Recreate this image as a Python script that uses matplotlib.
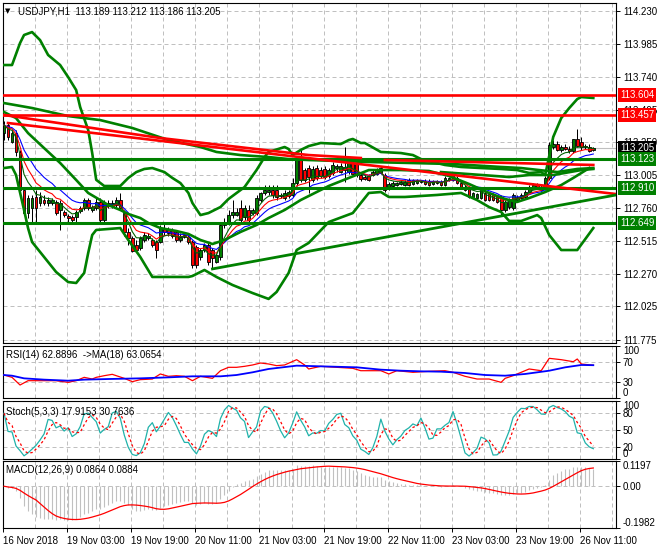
import numpy as np
import pandas as pd
import matplotlib
matplotlib.use("Agg")
import matplotlib.pyplot as plt
import matplotlib.transforms as mtransforms

plt.rcParams["font.family"] = ["Liberation Sans", "DejaVu Sans"]
plt.rcParams["font.size"] = 7

# USDJPY H1 candles
opens = [113.319, 113.379, 113.252, 113.319, 113.178, 112.894, 112.722, 112.760, 112.842, 112.797,
         112.819, 112.797, 112.797, 112.805, 112.745, 112.730, 112.700, 112.693, 112.693, 112.737,
         112.760, 112.819, 112.745, 112.760, 112.805, 112.670, 112.775, 112.775, 112.782, 112.819,
         112.722, 112.581, 112.536, 112.484, 112.461, 112.521, 112.536, 112.521, 112.506, 112.506,
         112.610, 112.603, 112.596, 112.581, 112.521, 112.543, 112.543, 112.506, 112.469, 112.394,
         112.446, 112.484, 112.446, 112.357, 112.394, 112.633, 112.648, 112.707, 112.707, 112.760,
         112.693, 112.745, 112.722, 112.722, 112.819, 112.872, 112.879, 112.894, 112.894, 112.849,
         112.834, 112.849, 112.857, 112.946, 113.133, 113.043, 113.058, 112.969, 113.058, 113.043,
         113.051, 112.999, 113.021, 113.058, 113.028, 113.043, 113.028, 113.096, 113.088, 113.006,
         112.991, 112.999, 113.006, 113.013, 113.021, 113.006, 112.909, 112.924, 112.931, 112.939,
         112.931, 112.969, 112.939, 112.946, 112.954, 112.961, 112.961, 112.939, 112.946, 112.954,
         112.931, 112.969, 112.969, 112.984, 112.946, 112.916, 112.909, 112.842, 112.834, 112.834,
         112.872, 112.864, 112.857, 112.842, 112.842, 112.745, 112.767, 112.760, 112.819, 112.834,
         112.842, 112.879, 112.909, 112.931, 112.894, 112.909, 112.984, 113.215, 113.237, 113.193,
         113.215, 113.200, 113.185, 113.275, 113.252, 113.215, 113.215, 113.189]
highs = [113.409, 113.394, 113.342, 113.342, 113.193, 112.909, 112.857, 112.857, 112.894, 112.879,
         112.857, 112.842, 112.834, 112.819, 112.819, 112.745, 112.715, 112.707, 112.745, 112.775,
         112.834, 112.834, 112.782, 112.834, 112.834, 112.819, 112.819, 112.819, 112.842, 112.872,
         112.745, 112.610, 112.551, 112.521, 112.551, 112.581, 112.573, 112.536, 112.521, 112.633,
         112.640, 112.618, 112.610, 112.596, 112.573, 112.573, 112.558, 112.521, 112.484, 112.461,
         112.499, 112.499, 112.461, 112.424, 112.655, 112.685, 112.745, 112.819, 112.760, 112.819,
         112.782, 112.782, 112.760, 112.857, 112.879, 112.931, 112.931, 112.931, 112.931, 112.872,
         112.894, 112.894, 112.984, 113.140, 113.193, 113.058, 113.081, 113.073, 113.081, 113.066,
         113.073, 113.058, 113.103, 113.088, 113.096, 113.215, 113.118, 113.118, 113.110, 113.028,
         113.006, 113.013, 113.043, 113.058, 113.073, 113.021, 112.954, 112.961, 112.954, 112.969,
         112.969, 112.984, 112.976, 112.976, 112.969, 112.976, 112.976, 112.969, 112.969, 112.969,
         112.999, 112.991, 113.021, 112.999, 112.961, 112.931, 112.924, 112.879, 112.872, 112.909,
         112.887, 112.879, 112.872, 112.857, 112.857, 112.819, 112.834, 112.872, 112.857, 112.872,
         112.894, 112.931, 112.946, 112.946, 112.931, 112.999, 113.252, 113.267, 113.260, 113.230,
         113.237, 113.222, 113.275, 113.349, 113.290, 113.237, 113.237, 113.212]
lows = [113.267, 113.267, 113.245, 113.148, 112.857, 112.707, 112.685, 112.648, 112.648, 112.775,
        112.782, 112.775, 112.782, 112.707, 112.596, 112.693, 112.655, 112.648, 112.655, 112.722,
        112.745, 112.745, 112.730, 112.745, 112.655, 112.655, 112.760, 112.760, 112.767, 112.745,
        112.551, 112.484, 112.431, 112.431, 112.446, 112.506, 112.521, 112.469, 112.387, 112.499,
        112.558, 112.551, 112.536, 112.506, 112.506, 112.536, 112.491, 112.312, 112.312, 112.372,
        112.431, 112.334, 112.305, 112.349, 112.372, 112.610, 112.633, 112.685, 112.700, 112.648,
        112.670, 112.655, 112.707, 112.707, 112.805, 112.857, 112.857, 112.834, 112.819, 112.834,
        112.819, 112.834, 112.842, 112.924, 112.954, 112.954, 112.872, 112.954, 112.969, 112.984,
        112.976, 112.984, 113.006, 113.028, 113.021, 112.954, 113.013, 112.999, 112.991, 112.961,
        112.969, 112.961, 112.999, 113.006, 113.013, 112.879, 112.894, 112.909, 112.924, 112.931,
        112.924, 112.924, 112.931, 112.939, 112.946, 112.931, 112.924, 112.931, 112.939, 112.924,
        112.924, 112.961, 112.961, 112.939, 112.909, 112.887, 112.834, 112.834, 112.819, 112.827,
        112.812, 112.812, 112.812, 112.797, 112.707, 112.730, 112.752, 112.745, 112.812, 112.827,
        112.834, 112.872, 112.902, 112.902, 112.887, 112.894, 112.969, 113.200, 113.185, 113.178,
        113.193, 113.170, 113.170, 113.215, 113.193, 113.200, 113.178, 113.186]
closes = [113.379, 113.290, 113.319, 113.178, 112.894, 112.722, 112.834, 112.834, 112.760, 112.842,
          112.797, 112.819, 112.819, 112.722, 112.797, 112.707, 112.685, 112.670, 112.730, 112.760,
          112.819, 112.760, 112.767, 112.805, 112.670, 112.797, 112.797, 112.797, 112.819, 112.760,
          112.581, 112.536, 112.439, 112.446, 112.536, 112.558, 112.551, 112.484, 112.446, 112.610,
          112.581, 112.573, 112.551, 112.521, 112.543, 112.558, 112.506, 112.334, 112.334, 112.446,
          112.484, 112.357, 112.387, 112.409, 112.633, 112.655, 112.707, 112.730, 112.730, 112.670,
          112.760, 112.670, 112.745, 112.834, 112.872, 112.894, 112.894, 112.857, 112.842, 112.857,
          112.872, 112.879, 112.946, 113.118, 112.969, 112.969, 112.991, 113.051, 112.984, 112.999,
          112.991, 113.043, 113.081, 113.073, 113.073, 113.066, 113.096, 113.013, 113.006, 112.976,
          112.976, 112.969, 113.028, 113.043, 113.058, 112.894, 112.939, 112.946, 112.946, 112.954,
          112.954, 112.931, 112.969, 112.969, 112.961, 112.939, 112.931, 112.961, 112.961, 112.931,
          112.984, 112.984, 113.006, 112.946, 112.916, 112.894, 112.842, 112.872, 112.864, 112.894,
          112.819, 112.819, 112.819, 112.805, 112.745, 112.805, 112.819, 112.857, 112.842, 112.857,
          112.879, 112.916, 112.931, 112.909, 112.916, 112.984, 113.230, 113.237, 113.193, 113.215,
          113.200, 113.185, 113.275, 113.222, 113.215, 113.222, 113.185, 113.205]

# Bollinger bands (upper / middle / lower)
bb_up_idx = [0, 2, 4, 5, 7, 9, 11, 14, 16, 18, 19, 21, 22, 23, 25, 29, 31, 33, 35, 37,
             40, 42, 44, 46, 47, 49, 51, 54, 56, 60, 63, 65, 66, 70, 71, 72, 74, 76, 79, 84,
             86, 87, 89, 90, 94, 99, 102, 104, 110, 114, 119, 124, 128, 131, 134, 135, 137, 139, 141, 143,
             144, 147]
bb_up = [113.827, 113.827, 113.991, 114.051, 114.073, 114.013, 113.902, 113.827, 113.737, 113.640,
         113.513, 113.342, 113.170, 112.970, 112.924, 112.924, 112.984, 113.028, 113.051, 113.058,
         113.028, 112.984, 112.946, 112.872, 112.797, 112.707, 112.722, 112.767, 112.827, 112.916,
         113.043, 113.140, 113.178, 113.215, 113.200, 113.155, 113.193, 113.222, 113.245, 113.237,
         113.267, 113.275, 113.245, 113.245, 113.178, 113.170, 113.155, 113.125, 113.081, 113.066,
         113.058, 113.051, 113.043, 113.021, 113.028, 113.006, 113.290, 113.431, 113.506, 113.573,
         113.588, 113.581]
bb_mid_idx = [0, 3, 6, 10, 14, 18, 21, 24, 26, 29, 31, 34, 36, 39, 43, 46, 49, 52, 55, 59,
              63, 66, 70, 74, 78, 81, 86, 91, 99, 106, 111, 116, 121, 125, 128, 131, 135, 139, 142, 146]
bb_mid = [113.476, 113.431, 113.319, 113.207, 113.096, 112.969, 112.872, 112.819, 112.782, 112.745,
          112.715, 112.685, 112.648, 112.610, 112.588, 112.566, 112.521, 112.491, 112.521, 112.581,
          112.633, 112.685, 112.745, 112.819, 112.879, 112.924, 112.984, 113.043, 113.043, 113.036,
          112.999, 112.939, 112.872, 112.827, 112.805, 112.834, 112.879, 112.931, 112.984, 113.058]
bb_lo_idx = [0, 2, 3, 5, 6, 7, 10, 13, 16, 18, 20, 21, 22, 23, 29, 31, 34, 37, 39, 46,
             47, 50, 53, 57, 62, 66, 68, 71, 73, 76, 81, 87, 91, 94, 96, 100, 108, 114, 118, 121,
             124, 126, 129, 133, 134, 136, 139, 143, 147]
bb_lo = [113.058, 113.066, 113.006, 112.745, 112.610, 112.506, 112.394, 112.282, 112.207, 112.200,
         112.275, 112.424, 112.558, 112.596, 112.610, 112.521, 112.394, 112.245, 112.245, 112.245,
         112.252, 112.297, 112.245, 112.185, 112.125, 112.081, 112.133, 112.275, 112.446, 112.499,
         112.655, 112.722, 112.872, 112.879, 112.842, 112.842, 112.857, 112.872, 112.819, 112.767,
         112.730, 112.663, 112.663, 112.707, 112.685, 112.558, 112.446, 112.446, 112.610]

# slow envelope lines
slow_idx = [0, 7, 16, 24, 32, 41, 49, 53, 59, 66, 71, 76, 84, 91, 101, 112, 124, 129, 138, 143, 147]
slow_line = [113.543, 113.506, 113.446, 113.416, 113.357, 113.267, 113.215, 113.178, 113.155, 113.140,
             113.125, 113.118, 113.110, 113.103, 113.096, 113.088, 113.066, 113.058, 113.028, 113.051, 113.058]
env_idx = [109, 116, 126, 131, 137, 144, 147]
env_line = [113.028, 113.013, 112.991, 113.006, 113.006, 113.043, 113.051]

# drawn objects: levels and trend lines
red_levels = [113.604, 113.457]
green_levels = [113.123, 112.910, 112.649]
red_a_idx = [0, 39, 76, 89]
red_a = [113.454, 113.282, 113.155, 113.133]
red_b_idx = [1, 152.66]
red_b = [113.394, 112.864]
red_c_idx = [95, 147]
red_c = [113.118, 113.081]
green_t_idx = [52, 152.66]
green_t = [112.305, 112.857]

# RSI(14) and its MA(18), read from the lower window
rsi_idx = [0, 2, 4, 6, 10, 13, 16, 18, 20, 22, 23, 25, 27, 30, 32, 34, 37, 39, 41, 43,
           45, 47, 49, 52, 54, 56, 58, 60, 62, 64, 66, 68, 70, 73, 75, 76, 79, 83, 87, 89,
           94, 96, 98, 102, 106, 110, 112, 115, 118, 121, 124, 125, 127, 129, 131, 134, 136, 139, 142, 143,
           144, 147]
rsi_val = [44.2, 39.7, 25.0, 33.3, 33.3, 33.3, 30.1, 33.3, 39.7, 36.5, 39.7, 42.9, 45.5, 37.8, 31.4, 35.3,
           36.5, 46.2, 41.7, 42.9, 41.7, 33.3, 41.7, 37.8, 52.5, 59.0, 59.0, 60.9, 63.5, 67.3, 65.4, 62.2,
           63.5, 73.7, 63.5, 55.8, 60.9, 59.0, 57.1, 52.5, 52.5, 46.2, 52.5, 49.4, 51.3, 52.5, 49.4, 41.7,
           36.5, 36.5, 30.1, 37.8, 42.9, 49.4, 55.8, 52.5, 76.3, 73.7, 69.8, 75.0, 65.4, 62.9]
rsi_ma_idx = [0, 2, 5, 10, 16, 20, 26, 34, 41, 47, 54, 58, 62, 66, 73, 79, 88, 94, 99, 104,
              109, 115, 120, 125, 130, 136, 140, 144, 147]
rsi_ma_val = [44.2, 42.9, 37.8, 35.3, 33.3, 35.3, 36.5, 37.8, 39.7, 41.7, 41.7, 44.2, 49.4, 55.8, 62.2,
              60.9, 59.0, 54.5, 52.5, 51.3, 50.6, 48.1, 44.2, 42.9, 46.2, 52.5, 59.0, 63.5, 63.1]

price_ticks = [114.230, 113.985, 113.740, 113.495, 113.250, 113.005, 112.760, 112.515, 112.270, 112.025, 111.775]
time_labels = ["16 Nov 2018", "19 Nov 03:00", "19 Nov 19:00", "20 Nov 11:00", "21 Nov 03:00",
               "21 Nov 19:00", "22 Nov 11:00", "23 Nov 03:00", "23 Nov 19:00", "26 Nov 11:00"]

o, h, l, c = (np.array(v) for v in (opens, highs, lows, closes))
x = np.arange(len(c))
close_s = pd.Series(c)

W, H = 660, 550
fig = plt.figure(figsize=(6.6, 5.5), dpi=100)


def px_axes(x0, y0, x1, y1):
    return fig.add_axes([x0 / W, 1 - y1 / H, (x1 - x0) / W, (y1 - y0) / H])


ax = px_axes(3, 3, 616, 343)
ax_rsi = px_axes(3, 346, 616, 398)
ax_sto = px_axes(3, 401, 616, 459)
ax_macd = px_axes(3, 461, 616, 528)
panels = [ax, ax_rsi, ax_sto, ax_macd]

XMIN, XMAX = -0.25, 152.66
grid_x = 7.73 + 8 * np.arange(19)
grid_kw = dict(color="#c0c0c0", lw=0.72, dashes=(4, 3), zorder=0.5)

for a in panels:
    a.set_xlim(XMIN, XMAX)
    a.yaxis.tick_right()
    a.tick_params(axis="y", length=3, width=0.7, pad=2, labelsize=7, colors="black")
    a.tick_params(axis="x", length=0, labelbottom=False)
    for s in a.spines.values():
        s.set_color("black")
        s.set_linewidth(0.8)
    for gx in grid_x:
        a.axvline(gx, **grid_kw)

# ---------------- main window ----------------
ax.set_ylim(111.752, 114.290)
ax.set_yticks(price_ticks)
ax.set_yticklabels([f"{v:.3f}" for v in price_ticks])
for v in price_ticks:
    ax.axhline(v, **grid_kw)

ax.axhline(c[-1], color="#c0c0c0", lw=0.8, zorder=0.6)

# candles
up = c >= o
ax.vlines(x, l, h, color="black", lw=0.72, zorder=2)
ax.bar(x, np.maximum(np.abs(c - o), 0.002), bottom=np.minimum(o, c), width=0.7,
       color=np.where(up, "#008000", "#ff0000"), edgecolor="black", linewidth=0.6, zorder=2.1)

# moving averages
ax.plot(x, close_s.ewm(span=13, adjust=False).mean(), color="#0000ff", lw=0.8, zorder=3)
ax.plot(x, close_s.ewm(span=8, adjust=False).mean(), color="#ff0000", lw=0.8, zorder=3)
ax.plot(x, close_s.ewm(span=5, adjust=False).mean(), color="#006400", lw=0.8, zorder=3)

band_kw = dict(color="#008000", lw=1.9, zorder=3.2, solid_joinstyle="round")
ax.plot(bb_up_idx, bb_up, **band_kw)
ax.plot(bb_mid_idx, bb_mid, **band_kw)
ax.plot(bb_lo_idx, bb_lo, **band_kw)
ax.plot(slow_idx, slow_line, **band_kw)
ax.plot(env_idx, env_line, **band_kw)

for v in red_levels:
    ax.axhline(v, color="#ff0000", lw=1.9, zorder=4)
for v in green_levels:
    ax.axhline(v, color="#008000", lw=2.2, zorder=4)
ax.plot(red_a_idx, red_a, color="#ff0000", lw=1.9, zorder=4)
ax.plot(red_b_idx, red_b, color="#ff0000", lw=1.9, zorder=4)
ax.plot(red_c_idx, red_c, color="#ff0000", lw=1.9, zorder=4)
ax.plot(green_t_idx, green_t, color="#008000", lw=2.0, zorder=4)

trans = mtransforms.blended_transform_factory(ax.transAxes, ax.transData)
box_x = (620 - 3) / 613
box_levels = [(113.604, "#ff0000"), (113.457, "#ff0000"), (c[-1], "#000000"),
              (113.123, "#008000"), (112.910, "#008000"), (112.649, "#008000")]
for v, col in box_levels:
    ax.text(box_x, v, f"{v:.3f}", transform=trans, color="white", fontsize=7,
            ha="left", va="center", clip_on=False, zorder=10,
            bbox=dict(boxstyle="square,pad=0.2", fc=col, ec="none"))

fig.text(5 / W, 1 - 11 / H, "\u25bc", fontsize=5, family="DejaVu Sans", va="center", ha="left")
fig.text(18 / W, 1 - 11 / H, "USDJPY,H1  113.189 113.212 113.186 113.205", fontsize=7,
         va="center", ha="left")

# ---------------- RSI ----------------
ax_rsi.set_ylim(0, 100)
ax_rsi.set_yticks([0, 30, 70, 100])
ax_rsi.set_yticklabels(["0", "30", "70", "100"])
for v in (30, 70):
    ax_rsi.axhline(v, **grid_kw)
ax_rsi.plot(rsi_idx, rsi_val, color="#ff0000", lw=0.9, zorder=3)
ax_rsi.plot(rsi_ma_idx, rsi_ma_val, color="#0000ff", lw=1.3, zorder=3)
fig.text(6 / W, 1 - 355 / H, "RSI(14) 62.8896  ->MA(18) 63.0654", fontsize=7, va="center")

# ---------------- Stochastic ----------------
hh = pd.Series(h).rolling(5, min_periods=1).max()
ll = pd.Series(l).rolling(5, min_periods=1).min()
k_line = 100 * (close_s - ll).rolling(3, min_periods=1).sum() / (hh - ll).rolling(3, min_periods=1).sum()
d_line = k_line.rolling(3, min_periods=1).mean()
ax_sto.set_ylim(0, 100)
ax_sto.set_yticks([0, 20, 50, 80, 100])
ax_sto.set_yticklabels(["0", "20", "50", "80", "100"])
for v in (20, 50, 80):
    ax_sto.axhline(v, **grid_kw)
ax_sto.plot(x, k_line, color="#20b2aa", lw=0.9, zorder=3)
ax_sto.plot(x, d_line, color="#ff0000", lw=0.9, dashes=(2, 2), zorder=3)
fig.text(6 / W, 1 - 412 / H, "Stoch(5,3,3) 17.9153 30.7636", fontsize=7, va="center")

# ---------------- MACD ----------------
ema12 = close_s.ewm(span=12, adjust=False).mean()
ema26 = close_s.ewm(span=26, adjust=False).mean()
macd = ema12 - ema26
signal = macd.rolling(9, min_periods=1).mean()
ax_macd.set_ylim(-0.1982, 0.1197)
ax_macd.set_yticks([-0.1982, 0.0, 0.1197])
ax_macd.set_yticklabels(["-0.1982", "0.00", "0.1197"])
ax_macd.axhline(0, **grid_kw)
ax_macd.vlines(x, 0, macd, color="#c0c0c0", lw=0.8, zorder=2)
ax_macd.plot(x, signal, color="#ff0000", lw=0.9, zorder=3)
fig.text(6 / W, 1 - 470 / H, "MACD(12,26,9) 0.0864 0.0884", fontsize=7, va="center")

label_x = [XMIN] + list(grid_x[1::2])
ax_macd.set_xticks(label_x)
ax_macd.set_xticklabels(time_labels, ha="left")
ax_macd.tick_params(axis="x", length=3, width=0.7, pad=3, labelbottom=True, labelsize=7)

# keep extreme scale labels inside their windows, as the terminal does
for a in (ax_rsi, ax_sto, ax_macd):
    ticks = a.yaxis.get_major_ticks()
    ticks[0].label2.set_verticalalignment("bottom")
    ticks[-1].label2.set_verticalalignment("top")

fig.savefig("out.png", dpi=100)
